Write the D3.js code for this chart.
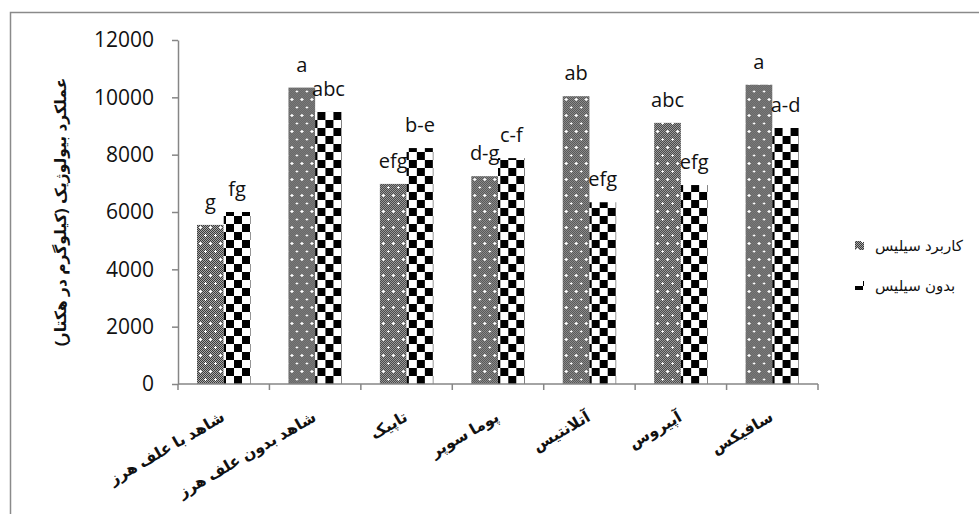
<!DOCTYPE html>
<html>
<head>
    <meta charset="utf-8">
    <script src="https://d3js.org/d3.v7.min.js"></script>
    <style>
        body { margin: 0; background: #fff; }
    </style>
</head>
<body></body>
<script>
    // treatments (x categories), two series, letters from mean comparison
    var categories = ["شاهد با علف هرز", "شاهد بدون علف هرز", "تاپیک", "پوما سوپر", "آتلانتیس", "آپیروس", "سافیکس"];
    var seriesNames = ["کاربرد سیلیس", "بدون سیلیس"];
    var withSilica = [5550, 10340, 6980, 7250, 10040, 9110, 10440];
    var noSilica = [6000, 9490, 8230, 7880, 6340, 6940, 8930];
    var lettersWith = ["g", "a", "efg", "d-g", "ab", "abc", "a"];
    var lettersNo = ["fg", "abc", "b-e", "c-f", "efg", "efg", "a-d"];
    var yTicks = [0, 2000, 4000, 6000, 8000, 10000, 12000];
    var yTitle = "عملکرد بیولوژیک (کیلوگرم در هکتار)";

    var W = 979, H = 514;
    var plot = {left: 178, right: 818, top: 40, bottom: 384};
    var axisColor = "#868686";
    var numFont = "'Open Sans', 'Liberation Sans', sans-serif";
    var faFont = "'Liberation Sans', 'DejaVu Sans', sans-serif";

    var svg = d3.select("body").append("svg")
        .attr("width", W)
        .attr("height", H);

    // patterns
    var defs = svg.append("defs");
    var p1 = defs.append("pattern").attr("id", "grayDots")
        .attr("patternUnits", "userSpaceOnUse")
        .attr("width", 10).attr("height", 16);
    p1.append("rect").attr("width", 10).attr("height", 16).attr("fill", "#a8a8a8");
    for (var i = 0; i < 10; i++) {
        for (var j = 0; j < 16; j++) {
            if ((i + j) % 2 === 0) {
                p1.append("rect").attr("x", i).attr("y", j).attr("width", 1).attr("height", 1).attr("fill", "#3a3a3a");
            }
        }
    }
    [[2, 3], [7, 11]].forEach(function(d) {
        p1.append("rect").attr("x", d[0] - 1).attr("y", d[1]).attr("width", 3).attr("height", 1).attr("fill", "#fff");
        p1.append("rect").attr("x", d[0]).attr("y", d[1] - 1).attr("width", 1).attr("height", 3).attr("fill", "#fff");
    });

    var p2 = defs.append("pattern").attr("id", "checker")
        .attr("patternUnits", "userSpaceOnUse")
        .attr("width", 16).attr("height", 16);
    p2.append("rect").attr("width", 16).attr("height", 16).attr("fill", "#fff");
    p2.append("rect").attr("width", 8).attr("height", 8).attr("fill", "#000");
    p2.append("rect").attr("x", 8).attr("y", 8).attr("width", 8).attr("height", 8).attr("fill", "#000");

    var fills = ["url(#grayDots)", "url(#checker)"];

    // outer frame (runs past the window on right and bottom)
    svg.append("rect")
        .attr("x", 10.5).attr("y", 12.5)
        .attr("width", 1000).attr("height", 600)
        .attr("fill", "none")
        .attr("stroke", "#8a8a8a")
        .attr("stroke-width", 1.5);

    var x = d3.scaleBand().domain(categories).range([plot.left, plot.right]).padding(0);
    var bw = x.bandwidth();
    var barW = bw * 0.292;
    var off = (bw - 2 * barW) / 2;
    var x1 = d3.scaleBand().domain(seriesNames).range([off, off + 2 * barW]).padding(0);

    var y = d3.scaleLinear().domain([0, 12000]).range([plot.bottom, plot.top]);

    var rows = categories.map(function(c, i) {
        return {cat: c, vals: [
            {s: seriesNames[0], v: withSilica[i], l: lettersWith[i], k: 0},
            {s: seriesNames[1], v: noSilica[i], l: lettersNo[i], k: 1}
        ]};
    });

    // bars
    var groups = svg.selectAll("g.grp").data(rows).enter().append("g")
        .attr("class", "grp")
        .attr("transform", function(d) { return "translate(" + x(d.cat) + ",0)"; });

    groups.selectAll("rect").data(function(d) { return d.vals; }).enter().append("rect")
        .attr("x", function(d) { return x1(d.s); })
        .attr("y", function(d) { return y(d.v); })
        .attr("width", x1.bandwidth())
        .attr("height", function(d) { return y(0) - y(d.v); })
        .attr("fill", function(d) { return fills[d.k]; });

    groups.selectAll("text.lbl").data(function(d) { return d.vals; }).enter().append("text")
        .attr("class", "lbl")
        .attr("x", function(d) { return x1(d.s) + x1.bandwidth() / 2; })
        .attr("y", function(d) { return y(d.v) - 16; })
        .attr("text-anchor", "middle")
        .attr("font-family", numFont)
        .attr("font-size", 20)
        .attr("fill", "#111")
        .text(function(d) { return d.l; });

    // y axis
    var yAxis = svg.append("g")
        .attr("transform", "translate(" + plot.left + ",0)")
        .call(d3.axisLeft(y).tickValues(yTicks).tickSize(6).tickSizeOuter(0).tickPadding(18)
            .tickFormat(d3.format("d")));
    yAxis.select(".domain").attr("stroke", axisColor).attr("stroke-width", 1.5);
    yAxis.selectAll(".tick line").attr("stroke", axisColor).attr("stroke-width", 1.5);
    yAxis.selectAll(".tick text")
        .attr("font-family", numFont)
        .attr("font-size", 21)
        .attr("fill", "#111");

    // x axis line and boundary ticks
    svg.append("line")
        .attr("x1", plot.left).attr("x2", plot.right)
        .attr("y1", y(0)).attr("y2", y(0))
        .attr("stroke", axisColor).attr("stroke-width", 1.5);
    var bounds = categories.map(function(c) { return x(c); }).concat([plot.right]);
    svg.selectAll("line.xt").data(bounds).enter().append("line")
        .attr("class", "xt")
        .attr("x1", function(d) { return d; }).attr("x2", function(d) { return d; })
        .attr("y1", y(0)).attr("y2", y(0) + 6)
        .attr("stroke", axisColor).attr("stroke-width", 1.5);

    // x labels
    svg.selectAll("text.xl").data(categories).enter().append("text")
        .attr("class", "xl")
        .attr("transform", function(d) {
            return "translate(" + (x(d) + bw / 2 + 2) + "," + (y(0) + 36) + ") rotate(-30)";
        })
        .attr("text-anchor", "end")
        .attr("font-family", faFont)
        .attr("font-weight", "bold")
        .attr("font-size", 15.5)
        .attr("fill", "#111")
        .text(function(d) { return d; });

    // y title
    svg.append("text")
        .attr("transform", "translate(66,212) rotate(-90)")
        .attr("text-anchor", "middle")
        .attr("font-family", faFont)
        .attr("font-weight", "bold")
        .attr("font-size", 15.5)
        .attr("fill", "#111")
        .text(yTitle);

    // legend
    var legend = svg.selectAll("g.leg").data(seriesNames).enter().append("g")
        .attr("class", "leg")
        .attr("transform", function(d, i) { return "translate(855," + (246 + i * 40) + ")"; });
    legend.append("rect")
        .attr("x", 0).attr("y", -5)
        .attr("width", 9).attr("height", 9)
        .attr("fill", function(d, i) { return fills[i]; });
    legend.append("text")
        .attr("x", 20).attr("y", 5)
        .attr("font-family", faFont)
        .attr("font-size", 15)
        .attr("fill", "#111")
        .text(function(d) { return d; });
</script>
</html>
